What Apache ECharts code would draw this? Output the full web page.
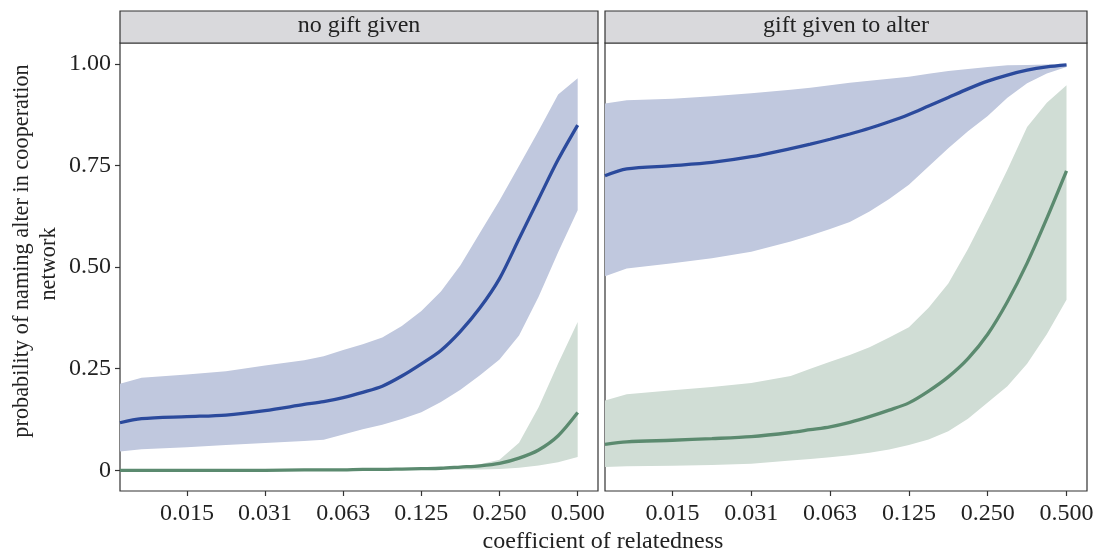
<!DOCTYPE html>
<html>
<head>
<meta charset="utf-8">
<script src="https://cdn.jsdelivr.net/npm/echarts@6/dist/echarts.min.js"></script>
<style>
html,body{margin:0;padding:0;background:#fff;}
#chart{width:1098px;height:559px;}
</style>
</head>
<body>
<div id="chart"></div>
<script>
// coefficient of relatedness at which the curves are read (log2 x-axis)
const relatedness = [0.00863, 0.01045, 0.015625, 0.0221, 0.03125, 0.0442, 0.05256, 0.0625, 0.07433, 0.08839,
                     0.10511, 0.125, 0.14865, 0.17678, 0.21022, 0.25, 0.2973, 0.35355, 0.42045, 0.5];
const tickValues = [0.015625, 0.03125, 0.0625, 0.125, 0.25, 0.5];
const tickLabels = ['0.015', '0.031', '0.063', '0.125', '0.250', '0.500'];
const yTicks = [0, 0.25, 0.5, 0.75, 1];
const yTickLabels = ['0', '0.25', '0.50', '0.75', '1.00'];
const panels = ['no gift given', 'gift given to alter'];

// panel 1: no gift given
const noGiftBlue      = [0.117, 0.127, 0.132, 0.136, 0.147, 0.162, 0.169, 0.179, 0.192, 0.207, 0.232, 0.262, 0.295, 0.342, 0.400, 0.472, 0.570, 0.668, 0.765, 0.850];
const noGiftBlueUpper = [0.213, 0.228, 0.236, 0.244, 0.258, 0.271, 0.281, 0.296, 0.310, 0.327, 0.355, 0.392, 0.440, 0.505, 0.585, 0.664, 0.750, 0.836, 0.925, 0.965];
const noGiftBlueLower = [0.046, 0.052, 0.057, 0.062, 0.067, 0.072, 0.075, 0.088, 0.101, 0.112, 0.126, 0.143, 0.168, 0.198, 0.234, 0.273, 0.332, 0.427, 0.537, 0.640];
const noGiftGreen      = [0.000, 0.000, 0.000, 0.000, 0.000, 0.001, 0.001, 0.001, 0.002, 0.002, 0.003, 0.004, 0.005, 0.008, 0.011, 0.017, 0.030, 0.050, 0.085, 0.142];
const noGiftGreenUpper = [0.001, 0.001, 0.001, 0.001, 0.002, 0.002, 0.002, 0.003, 0.003, 0.004, 0.005, 0.006, 0.006, 0.009, 0.015, 0.026, 0.068, 0.155, 0.263, 0.365];
const noGiftGreenLower = [0.000, 0.000, 0.000, 0.000, 0.000, 0.000, 0.000, 0.000, 0.000, 0.000, 0.001, 0.001, 0.001, 0.002, 0.002, 0.003, 0.006, 0.012, 0.020, 0.033];

// panel 2: gift given to alter
const giftBlue      = [0.725, 0.742, 0.750, 0.758, 0.772, 0.792, 0.803, 0.815, 0.828, 0.842, 0.858, 0.876, 0.897, 0.918, 0.939, 0.958, 0.973, 0.985, 0.993, 0.998];
const giftBlueUpper = [0.903, 0.911, 0.915, 0.921, 0.928, 0.937, 0.942, 0.948, 0.954, 0.959, 0.964, 0.969, 0.976, 0.983, 0.988, 0.993, 0.997, 0.998, 0.999, 1.000];
const giftBlueLower = [0.478, 0.497, 0.510, 0.522, 0.538, 0.563, 0.578, 0.594, 0.611, 0.637, 0.668, 0.703, 0.748, 0.793, 0.835, 0.872, 0.917, 0.953, 0.977, 0.993];
const giftGreen      = [0.064, 0.070, 0.074, 0.078, 0.083, 0.093, 0.100, 0.107, 0.118, 0.132, 0.148, 0.166, 0.195, 0.230, 0.275, 0.335, 0.415, 0.510, 0.620, 0.737];
const giftGreenUpper = [0.172, 0.187, 0.197, 0.205, 0.215, 0.232, 0.250, 0.267, 0.284, 0.303, 0.327, 0.352, 0.400, 0.460, 0.545, 0.640, 0.740, 0.845, 0.905, 0.948];
const giftGreenLower = [0.008, 0.010, 0.011, 0.013, 0.016, 0.024, 0.028, 0.032, 0.037, 0.043, 0.051, 0.062, 0.076, 0.096, 0.127, 0.167, 0.207, 0.262, 0.335, 0.420];

const BLUE = '#2b4a9c', BLUE_FILL = '#c0c8de', GREEN = '#5b8a6f', GREEN_FILL = '#d0ddd5';
const FONT = '"Liberation Serif", "Times New Roman", serif';
const TXT = '#222';

const xs = relatedness.map(r => Math.log2(r));
const pts = ys => ys.map((y, i) => [xs[i], y]);

const grids = [
  {left: 120, top: 43, width: 478, height: 448},
  {left: 605, top: 43, width: 482, height: 448}
];

function xAxis(i) {
  return {
    type: 'value', gridIndex: i,
    min: -6.856, max: -0.74,
    splitLine: {show: false},
    axisLine: {show: false, onZero: false},
    axisTick: {show: true, length: 5, lineStyle: {color: '#333', width: 1.2}, customValues: tickValues.map(v => Math.log2(v))},
    axisLabel: {
      show: true, margin: 11, fontFamily: FONT, fontSize: 24, color: TXT,
      customValues: tickValues.map(v => Math.log2(v)),
      formatter: v => { const k = tickValues.findIndex(t => Math.abs(Math.log2(t) - v) < 1e-6); return k >= 0 ? tickLabels[k] : ''; }
    }
  };
}
function yAxis(i) {
  return {
    type: 'value', gridIndex: i,
    min: -0.051, max: 1.052,
    splitLine: {show: false},
    axisLine: {show: false, onZero: false},
    axisTick: {show: i === 0, length: 5, lineStyle: {color: '#333', width: 1.2}, customValues: yTicks},
    axisLabel: {
      show: i === 0, margin: 9, fontFamily: FONT, fontSize: 24, color: TXT,
      customValues: yTicks,
      formatter: v => { const k = yTicks.findIndex(t => Math.abs(t - v) < 1e-6); return k >= 0 ? yTickLabels[k] : ''; }
    }
  };
}

// ribbon: one polygon through upper edge then lower edge (reversed), placed by the axis scales
function band(i, upper, lower, color) {
  const data = xs.map((x, k) => [x, upper[k], lower[k]]);
  return {
    type: 'custom', xAxisIndex: i, yAxisIndex: i, data: data, silent: true, z: 1, clip: true,
    encode: {x: 0, y: [1, 2]},
    renderItem: function (params, api) {
      if (params.dataIndex !== 0) return null;
      const top = data.map(d => api.coord([d[0], d[1]]));
      const bot = data.map(d => api.coord([d[0], d[2]])).reverse();
      return {type: 'polygon', shape: {points: top.concat(bot)}, style: {fill: color, stroke: null}};
    }
  };
}
function curve(i, ys, color) {
  return {type: 'line', xAxisIndex: i, yAxisIndex: i, data: pts(ys), symbol: 'none',
    smooth: 0.3, lineStyle: {color: color, width: 3.3}, silent: true, z: 3};
}

const series = [
  band(0, noGiftBlueUpper, noGiftBlueLower, BLUE_FILL),
  band(0, noGiftGreenUpper, noGiftGreenLower, GREEN_FILL),
  curve(0, noGiftBlue, BLUE),
  curve(0, noGiftGreen, GREEN),
  band(1, giftBlueUpper, giftBlueLower, BLUE_FILL),
  band(1, giftGreenUpper, giftGreenLower, GREEN_FILL),
  curve(1, giftBlue, BLUE),
  curve(1, giftGreen, GREEN)
];

const graphic = [];
grids.forEach((g, i) => {
  graphic.push({type: 'rect', shape: {x: g.left, y: 11, width: g.width, height: 32},
    style: {fill: '#d9d9dc', stroke: '#333', lineWidth: 1.2}, z: 10});
  graphic.push({type: 'text', x: g.left + g.width / 2, y: 26,
    style: {text: panels[i], font: '24px ' + FONT, fill: TXT, textAlign: 'center', textVerticalAlign: 'middle'}, z: 11});
});
graphic.push({type: 'text', x: 603, y: 542,
  style: {text: 'coefficient of relatedness', font: '24px ' + FONT, fill: TXT, textAlign: 'center', textVerticalAlign: 'middle'}});
graphic.push({type: 'text', x: 22.5, y: 251, rotation: Math.PI / 2,
  style: {text: 'probability of naming alter in cooperation', font: '22.3px ' + FONT, fill: TXT, textAlign: 'center', textVerticalAlign: 'middle'}});
graphic.push({type: 'text', x: 49, y: 264, rotation: Math.PI / 2,
  style: {text: 'network', font: '22.3px ' + FONT, fill: TXT, textAlign: 'center', textVerticalAlign: 'middle'}});

const chart = echarts.init(document.getElementById('chart'));
chart.setOption({
  animation: false,
  backgroundColor: '#fff',
  grid: grids.map(g => Object.assign({show: true, borderColor: '#333', borderWidth: 1.2, backgroundColor: '#fff'}, g)),
  xAxis: [xAxis(0), xAxis(1)],
  yAxis: [yAxis(0), yAxis(1)],
  series: series,
  graphic: graphic
});
</script>
</body>
</html>
